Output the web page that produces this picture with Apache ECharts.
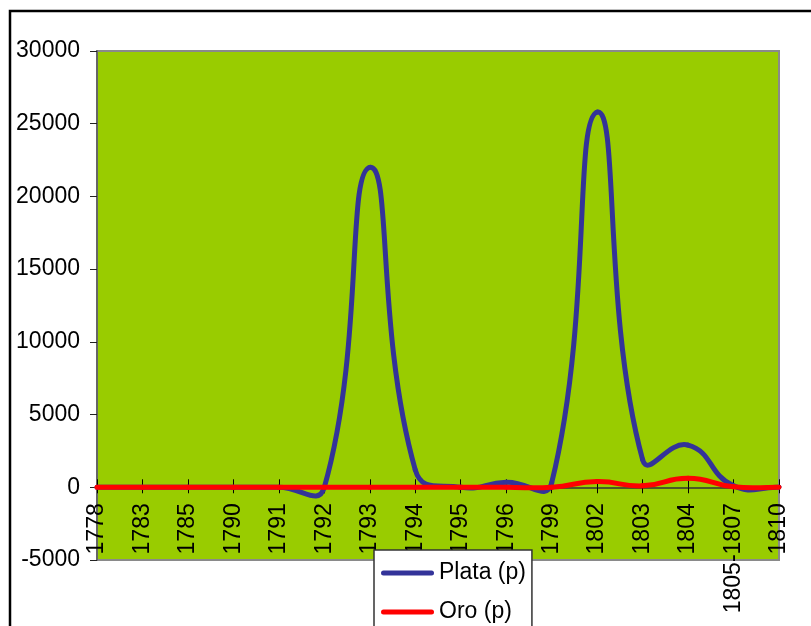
<!DOCTYPE html>
<html>
<head>
<meta charset="utf-8">
<script src="https://cdn.jsdelivr.net/npm/echarts@6/dist/echarts.min.js"></script>
<style>html,body{margin:0;padding:0;background:#fff;}#chart{width:811px;height:626px;}</style>
</head>
<body>
<div id="chart"></div>
<script>
// ---- data ----
const categories = ['1778','1783','1785','1790','1791','1792','1793','1794','1795','1796','1799','1802','1803','1804','1805-1807','1810'];
const plata = [0, 0, 0, 0, 0, 0, 22000, 1200, 0, 350, 300, 25800, 1900, 2900, 100, 0];
const oro   = [0, 0, 0, 0, 0, 0, 0, 0, 0, 0, 0, 390, 100, 620, 30, 0];
const yTicks = { min: -5000, max: 30000, interval: 5000 };

const FONT = "'Liberation Sans', Arial, sans-serif";
const SMOOTH = 0.5;

// Excel-like smoothing (ratio-based control points, no overshoot constraint)
function controlPoints(pts) {
  const n = pts.length, res = [];
  for (let k = 0; k < n; k++) {
    const p = pts[k];
    const prev = pts[k - 1] || p;
    const next = pts[k + 1] || p;
    const vx = next[0] - prev[0], vy = next[1] - prev[1];
    const l0 = Math.hypot(p[0] - prev[0], p[1] - prev[1]);
    const l1 = Math.hypot(next[0] - p[0], next[1] - p[1]);
    const r = (l0 + l1) > 0 ? l1 / (l0 + l1) : 0.5;
    res.push({
      before: [p[0] - vx * SMOOTH * (1 - r), p[1] - vy * SMOOTH * (1 - r)],
      after:  [p[0] + vx * SMOOTH * r,       p[1] + vy * SMOOTH * r]
    });
  }
  return res;
}

function makeRenderItem(values, color) {
  return function (params, api) {
    const i = params.dataIndex;
    if (i >= values.length - 1) return null;
    const pts = values.map((v, k) => api.coord([k, v]));
    const cps = controlPoints(pts);
    const a = pts[i], b = pts[i + 1];
    return {
      type: 'bezierCurve',
      shape: {
        x1: a[0], y1: a[1], x2: b[0], y2: b[1],
        cpx1: cps[i].after[0], cpy1: cps[i].after[1],
        cpx2: cps[i + 1].before[0], cpy2: cps[i + 1].before[1]
      },
      style: { stroke: color, lineWidth: 5, fill: null, lineCap: 'round', lineJoin: 'round' }
    };
  };
}

const lineIcon = 'path://M2.5,0 H50.5 A2.5,2.5 0 0 1 50.5,5 H2.5 A2.5,2.5 0 0 1 2.5,0 Z';
const CH = 626, GT = 51, GB = 66;
const gridBox = { left: 97, right: 32, top: GT, bottom: GB, outerBoundsMode: 'none' };
// distance from the grid bottom to the zero line (category axis sits on y = 0)
const zeroOffset = -(0 - yTicks.min) / (yTicks.max - yTicks.min) * (CH - GT - GB);

const chart = echarts.init(document.getElementById('chart'), null, { renderer: 'canvas' });
chart.setOption({
  animation: false,
  backgroundColor: '#ffffff',
  textStyle: { fontFamily: FONT },
  graphic: [{
    type: 'rect', z: -10, silent: true,
    shape: { x: 10, y: 11, width: 900, height: 900 },
    style: { fill: null, stroke: '#000', lineWidth: 2.5 }
  }],
  grid: [
    Object.assign({ show: true, backgroundColor: '#99CC00', borderColor: '#8a8a8a', borderWidth: 2 }, gridBox),
    Object.assign({ show: false }, gridBox)
  ],
  legend: {
    orient: 'vertical', left: 374, top: 550, height: 150,
    padding: [10, 6, 30, 7],
    itemWidth: 53, itemHeight: 5, itemGap: 13,
    backgroundColor: '#ffffff', borderColor: '#333', borderWidth: 1.5,
    textStyle: { fontFamily: FONT, fontSize: 23, color: '#000', lineHeight: 26 },
    data: [
      { name: 'Plata (p)', icon: lineIcon, itemStyle: { color: '#333399' } },
      { name: 'Oro (p)', icon: lineIcon, itemStyle: { color: '#FF0000' } }
    ]
  },
  xAxis: [{
    gridIndex: 0, type: 'category', data: categories, boundaryGap: false, position: 'bottom',
    offset: zeroOffset,
    axisLine: { onZero: false, lineStyle: { color: '#333', width: 1.5 } },
    axisTick: { show: true, interval: 0, length: 6, lineStyle: { color: '#000', width: 1 } },
    axisLabel: { interval: 0, rotate: 90, margin: 16, fontFamily: FONT, fontSize: 23, color: '#000' },
    splitLine: { show: false }
  }, {
    gridIndex: 1, type: 'category', data: categories, boundaryGap: false, position: 'bottom',
    offset: zeroOffset,
    axisLine: { show: false, onZero: false },
    axisTick: { show: true, inside: true, interval: 0, length: 8, lineStyle: { color: '#000', width: 1 } },
    axisLabel: { show: false },
    splitLine: { show: false }
  }],
  yAxis: [{
    gridIndex: 0, type: 'value', min: yTicks.min, max: yTicks.max, interval: yTicks.interval,
    axisLine: { show: true, lineStyle: { color: '#666', width: 2 } },
    axisTick: { show: true, length: 7, lineStyle: { color: '#222', width: 1 } },
    axisLabel: { margin: 17, fontFamily: FONT, fontSize: 23, color: '#000', formatter: v => String(v) },
    splitLine: { show: false }
  }, {
    gridIndex: 1, type: 'value', min: yTicks.min, max: yTicks.max, interval: yTicks.interval,
    show: false
  }],
  series: [{
    name: 'Plata (p)', type: 'custom', xAxisIndex: 0, yAxisIndex: 0,
    itemStyle: { color: '#333399' },
    renderItem: makeRenderItem(plata, '#333399'),
    encode: { x: 0, y: 1 },
    data: plata.map((v, i) => [i, v]),
    z: 3
  }, {
    name: 'Oro (p)', type: 'custom', xAxisIndex: 0, yAxisIndex: 0,
    itemStyle: { color: '#FF0000' },
    renderItem: makeRenderItem(oro, '#FF0000'),
    encode: { x: 0, y: 1 },
    data: oro.map((v, i) => [i, v]),
    z: 4
  }]
});
</script>
</body>
</html>
